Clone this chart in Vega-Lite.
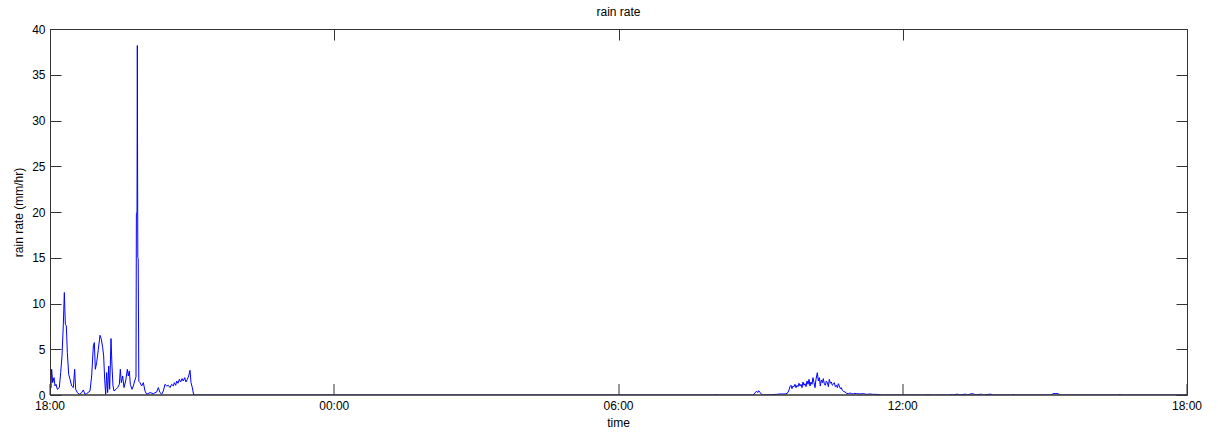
{
  "$schema": "https://vega.github.io/schema/vega-lite/v6.json",
  "autosize": "none",
  "width": 1137,
  "height": 366,
  "padding": {"left": 50, "top": 29, "right": 31, "bottom": 37},
  "background": "#ffffff",
  "config": {
    "font": "Liberation Sans",
    "view": {"stroke": null},
    "axis": {"labelFont": "Liberation Sans", "titleFont": "Liberation Sans", "labelFontSize": 12, "titleFontSize": 12, "titleFontWeight": "normal", "labelColor": "#000", "titleColor": "#000", "domainColor": "#333", "tickColor": "#333", "grid": false}
  },
  "title": {"text": "rain rate", "fontSize": 12, "fontWeight": "normal", "font": "Liberation Sans", "color": "#000", "offset": 4},
  "data": {"values": [
    {"t": "2013-06-01T18:00:00", "v": 1.5},
    {"t": "2013-06-01T18:01:16", "v": 0.81},
    {"t": "2013-06-01T18:02:07", "v": 2.81},
    {"t": "2013-06-01T18:03:23", "v": 1.35},
    {"t": "2013-06-01T18:05:04", "v": 1.9},
    {"t": "2013-06-01T18:06:20", "v": 0.99},
    {"t": "2013-06-01T18:07:36", "v": 1.17},
    {"t": "2013-06-01T18:09:17", "v": 0.62},
    {"t": "2013-06-01T18:11:49", "v": 0.81},
    {"t": "2013-06-01T18:13:31", "v": 2.45},
    {"t": "2013-06-01T18:15:12", "v": 4.27},
    {"t": "2013-06-01T18:16:53", "v": 7.74},
    {"t": "2013-06-01T18:18:09", "v": 11.2},
    {"t": "2013-06-01T18:19:25", "v": 7.74},
    {"t": "2013-06-01T18:20:41", "v": 7.55},
    {"t": "2013-06-01T18:21:57", "v": 4.64},
    {"t": "2013-06-01T18:23:38", "v": 2.26},
    {"t": "2013-06-01T18:25:20", "v": 1.72},
    {"t": "2013-06-01T18:27:26", "v": 0.99},
    {"t": "2013-06-01T18:29:33", "v": 0.81},
    {"t": "2013-06-01T18:31:14", "v": 2.81},
    {"t": "2013-06-01T18:32:31", "v": 0.62},
    {"t": "2013-06-01T18:34:37", "v": 0.26},
    {"t": "2013-06-01T18:37:09", "v": 0.08},
    {"t": "2013-06-01T18:40:07", "v": 0.26},
    {"t": "2013-06-01T18:42:13", "v": 0.55},
    {"t": "2013-06-01T18:44:20", "v": 0.08},
    {"t": "2013-06-01T18:46:26", "v": 0.15},
    {"t": "2013-06-01T18:50:40", "v": 0.44},
    {"t": "2013-06-01T18:52:46", "v": 2.08},
    {"t": "2013-06-01T18:54:53", "v": 5.36},
    {"t": "2013-06-01T18:56:09", "v": 5.73},
    {"t": "2013-06-01T18:57:25", "v": 2.81},
    {"t": "2013-06-01T18:59:06", "v": 3.54},
    {"t": "2013-06-01T19:01:13", "v": 5.0},
    {"t": "2013-06-01T19:03:20", "v": 6.53},
    {"t": "2013-06-01T19:05:01", "v": 6.09},
    {"t": "2013-06-01T19:06:42", "v": 5.18},
    {"t": "2013-06-01T19:07:58", "v": 4.27},
    {"t": "2013-06-01T19:09:14", "v": 1.72},
    {"t": "2013-06-01T19:10:31", "v": 0.08},
    {"t": "2013-06-01T19:11:46", "v": 2.45},
    {"t": "2013-06-01T19:13:02", "v": 0.26},
    {"t": "2013-06-01T19:14:19", "v": 3.17},
    {"t": "2013-06-01T19:15:34", "v": 0.62},
    {"t": "2013-06-01T19:17:16", "v": 6.17},
    {"t": "2013-06-01T19:18:31", "v": 3.17},
    {"t": "2013-06-01T19:19:47", "v": 0.99},
    {"t": "2013-06-01T19:21:04", "v": 0.44},
    {"t": "2013-06-01T19:23:35", "v": 0.62},
    {"t": "2013-06-01T19:25:42", "v": 0.81},
    {"t": "2013-06-01T19:27:49", "v": 1.17},
    {"t": "2013-06-01T19:29:04", "v": 2.81},
    {"t": "2013-06-01T19:30:20", "v": 1.35},
    {"t": "2013-06-01T19:32:02", "v": 2.08},
    {"t": "2013-06-01T19:33:43", "v": 0.81},
    {"t": "2013-06-01T19:35:50", "v": 1.53},
    {"t": "2013-06-01T19:37:56", "v": 2.81},
    {"t": "2013-06-01T19:39:13", "v": 2.08},
    {"t": "2013-06-01T19:40:28", "v": 2.63},
    {"t": "2013-06-01T19:41:44", "v": 1.17},
    {"t": "2013-06-01T19:43:51", "v": 0.62},
    {"t": "2013-06-01T19:45:32", "v": 0.99},
    {"t": "2013-06-01T19:47:14", "v": 1.53},
    {"t": "2013-06-01T19:48:54", "v": 2.0},
    {"t": "2013-06-01T19:49:24", "v": 19.8},
    {"t": "2013-06-01T19:50:12", "v": 20.0},
    {"t": "2013-06-01T19:50:36", "v": 38.2},
    {"t": "2013-06-01T19:51:12", "v": 15.0},
    {"t": "2013-06-01T19:51:42", "v": 14.9},
    {"t": "2013-06-01T19:52:30", "v": 1.5},
    {"t": "2013-06-01T19:53:59", "v": 1.35},
    {"t": "2013-06-01T19:56:06", "v": 0.99},
    {"t": "2013-06-01T19:58:13", "v": 1.35},
    {"t": "2013-06-01T20:00:19", "v": 0.44},
    {"t": "2013-06-01T20:02:26", "v": 0.08},
    {"t": "2013-06-01T20:06:39", "v": 0.26},
    {"t": "2013-06-01T20:10:52", "v": 0.15},
    {"t": "2013-06-01T20:15:05", "v": 0.33},
    {"t": "2013-06-01T20:17:12", "v": 0.81},
    {"t": "2013-06-01T20:19:19", "v": 0.26},
    {"t": "2013-06-01T20:21:26", "v": 0.08},
    {"t": "2013-06-01T20:23:32", "v": 0.44},
    {"t": "2013-06-01T20:25:39", "v": 1.17},
    {"t": "2013-06-01T20:27:46", "v": 0.99},
    {"t": "2013-06-01T20:29:52", "v": 1.06},
    {"t": "2013-06-01T20:31:59", "v": 0.81},
    {"t": "2013-06-01T20:34:05", "v": 1.17},
    {"t": "2013-06-01T20:36:12", "v": 0.99},
    {"t": "2013-06-01T20:37:28", "v": 1.35},
    {"t": "2013-06-01T20:39:10", "v": 1.06},
    {"t": "2013-06-01T20:40:25", "v": 1.53},
    {"t": "2013-06-01T20:42:07", "v": 1.28},
    {"t": "2013-06-01T20:43:48", "v": 1.72},
    {"t": "2013-06-01T20:45:29", "v": 1.42},
    {"t": "2013-06-01T20:47:11", "v": 1.79},
    {"t": "2013-06-01T20:48:52", "v": 1.53},
    {"t": "2013-06-01T20:50:34", "v": 1.9},
    {"t": "2013-06-01T20:52:14", "v": 1.42},
    {"t": "2013-06-01T20:53:56", "v": 1.72},
    {"t": "2013-06-01T20:55:37", "v": 2.08},
    {"t": "2013-06-01T20:57:19", "v": 2.7},
    {"t": "2013-06-01T20:58:35", "v": 1.35},
    {"t": "2013-06-01T21:00:16", "v": 0.81},
    {"t": "2013-06-01T21:01:58", "v": 0},
    {"t": "2013-06-02T08:03:30", "v": 0},
    {"t": "2013-06-02T08:04:18", "v": 0.1},
    {"t": "2013-06-02T08:05:00", "v": 0},
    {"t": "2013-06-02T08:50:48", "v": 0},
    {"t": "2013-06-02T08:52:54", "v": 0.26},
    {"t": "2013-06-02T08:55:00", "v": 0.4},
    {"t": "2013-06-02T08:56:18", "v": 0.26},
    {"t": "2013-06-02T08:57:30", "v": 0.47},
    {"t": "2013-06-02T08:59:12", "v": 0.29},
    {"t": "2013-06-02T09:01:18", "v": 0.07},
    {"t": "2013-06-02T09:03:24", "v": 0},
    {"t": "2013-06-02T09:20:18", "v": 0.07},
    {"t": "2013-06-02T09:24:30", "v": 0.11},
    {"t": "2013-06-02T09:30:54", "v": 0.11},
    {"t": "2013-06-02T09:33:48", "v": 0.18},
    {"t": "2013-06-02T09:35:30", "v": 0.44},
    {"t": "2013-06-02T09:37:12", "v": 0.91},
    {"t": "2013-06-02T09:38:30", "v": 1.06},
    {"t": "2013-06-02T09:39:42", "v": 0.69},
    {"t": "2013-06-02T09:41:00", "v": 0.98},
    {"t": "2013-06-02T09:42:18", "v": 0.91},
    {"t": "2013-06-02T09:43:30", "v": 1.17},
    {"t": "2013-06-02T09:44:48", "v": 0.8},
    {"t": "2013-06-02T09:46:06", "v": 1.06},
    {"t": "2013-06-02T09:47:18", "v": 0.91},
    {"t": "2013-06-02T09:48:36", "v": 1.28},
    {"t": "2013-06-02T09:49:54", "v": 0.98},
    {"t": "2013-06-02T09:51:06", "v": 1.17},
    {"t": "2013-06-02T09:52:24", "v": 0.8},
    {"t": "2013-06-02T09:53:42", "v": 1.42},
    {"t": "2013-06-02T09:54:54", "v": 1.06},
    {"t": "2013-06-02T09:56:12", "v": 1.24},
    {"t": "2013-06-02T09:57:30", "v": 0.91},
    {"t": "2013-06-02T09:58:42", "v": 1.53},
    {"t": "2013-06-02T10:00:00", "v": 1.17},
    {"t": "2013-06-02T10:01:18", "v": 1.71},
    {"t": "2013-06-02T10:02:30", "v": 0.98},
    {"t": "2013-06-02T10:03:48", "v": 1.42},
    {"t": "2013-06-02T10:05:06", "v": 1.17},
    {"t": "2013-06-02T10:06:18", "v": 1.9},
    {"t": "2013-06-02T10:07:36", "v": 1.35},
    {"t": "2013-06-02T10:08:54", "v": 0.8},
    {"t": "2013-06-02T10:10:06", "v": 1.71},
    {"t": "2013-06-02T10:11:48", "v": 2.44},
    {"t": "2013-06-02T10:13:06", "v": 1.53},
    {"t": "2013-06-02T10:14:24", "v": 1.9},
    {"t": "2013-06-02T10:15:36", "v": 0.98},
    {"t": "2013-06-02T10:16:54", "v": 1.64},
    {"t": "2013-06-02T10:18:12", "v": 1.35},
    {"t": "2013-06-02T10:19:24", "v": 1.79},
    {"t": "2013-06-02T10:20:42", "v": 1.17},
    {"t": "2013-06-02T10:22:00", "v": 1.06},
    {"t": "2013-06-02T10:23:12", "v": 1.53},
    {"t": "2013-06-02T10:24:30", "v": 1.35},
    {"t": "2013-06-02T10:25:48", "v": 0.91},
    {"t": "2013-06-02T10:27:00", "v": 1.71},
    {"t": "2013-06-02T10:28:18", "v": 1.28},
    {"t": "2013-06-02T10:29:36", "v": 1.42},
    {"t": "2013-06-02T10:30:48", "v": 1.06},
    {"t": "2013-06-02T10:32:06", "v": 1.17},
    {"t": "2013-06-02T10:33:24", "v": 1.35},
    {"t": "2013-06-02T10:34:36", "v": 0.91},
    {"t": "2013-06-02T10:35:54", "v": 1.06},
    {"t": "2013-06-02T10:37:12", "v": 0.8},
    {"t": "2013-06-02T10:38:24", "v": 1.24},
    {"t": "2013-06-02T10:39:42", "v": 0.98},
    {"t": "2013-06-02T10:41:00", "v": 0.69},
    {"t": "2013-06-02T10:42:12", "v": 0.8},
    {"t": "2013-06-02T10:43:30", "v": 0.51},
    {"t": "2013-06-02T10:44:48", "v": 0.4},
    {"t": "2013-06-02T10:46:54", "v": 0.33},
    {"t": "2013-06-02T10:49:00", "v": 0.18},
    {"t": "2013-06-02T10:51:06", "v": 0.15},
    {"t": "2013-06-02T10:53:12", "v": 0.22},
    {"t": "2013-06-02T10:55:18", "v": 0.15},
    {"t": "2013-06-02T10:57:24", "v": 0.11},
    {"t": "2013-06-02T10:59:30", "v": 0.18},
    {"t": "2013-06-02T11:01:36", "v": 0.15},
    {"t": "2013-06-02T11:05:54", "v": 0.11},
    {"t": "2013-06-02T11:10:06", "v": 0.15},
    {"t": "2013-06-02T11:14:18", "v": 0.07},
    {"t": "2013-06-02T11:18:30", "v": 0.11},
    {"t": "2013-06-02T11:22:42", "v": 0.07},
    {"t": "2013-06-02T11:27:00", "v": 0.07},
    {"t": "2013-06-02T11:31:12", "v": 0.04},
    {"t": "2013-06-02T11:33:18", "v": 0},
    {"t": "2013-06-02T12:31:30", "v": 0},
    {"t": "2013-06-02T12:32:00", "v": 0.1},
    {"t": "2013-06-02T12:32:30", "v": 0},
    {"t": "2013-06-02T13:00:00", "v": 0},
    {"t": "2013-06-02T13:01:00", "v": 0.1},
    {"t": "2013-06-02T13:02:00", "v": 0},
    {"t": "2013-06-02T13:10:00", "v": 0.1},
    {"t": "2013-06-02T13:11:00", "v": 0},
    {"t": "2013-06-02T13:20:00", "v": 0.1},
    {"t": "2013-06-02T13:21:00", "v": 0},
    {"t": "2013-06-02T13:28:00", "v": 0.15},
    {"t": "2013-06-02T13:30:00", "v": 0.1},
    {"t": "2013-06-02T13:32:00", "v": 0},
    {"t": "2013-06-02T13:40:00", "v": 0.1},
    {"t": "2013-06-02T13:41:00", "v": 0},
    {"t": "2013-06-02T13:52:00", "v": 0.1},
    {"t": "2013-06-02T13:53:00", "v": 0},
    {"t": "2013-06-02T14:19:00", "v": 0},
    {"t": "2013-06-02T14:20:00", "v": 0.1},
    {"t": "2013-06-02T14:21:00", "v": 0},
    {"t": "2013-06-02T15:09:00", "v": 0},
    {"t": "2013-06-02T15:10:00", "v": 0.15},
    {"t": "2013-06-02T15:17:00", "v": 0.15},
    {"t": "2013-06-02T15:18:00", "v": 0},
    {"t": "2013-06-02T16:34:00", "v": 0},
    {"t": "2013-06-02T16:35:00", "v": 0.1},
    {"t": "2013-06-02T16:36:00", "v": 0},
    {"t": "2013-06-02T18:00:00", "v": 0}
  ]},
  "layer": [
    {
      "mark": {"type": "line", "color": "#0000ff", "strokeWidth": 1, "clip": true},
      "encoding": {
        "x": {"field": "t", "type": "temporal",
          "scale": {"domain": [{"year": 2013, "month": 6, "date": 1, "hours": 18}, {"year": 2013, "month": 6, "date": 2, "hours": 18}]},
          "axis": {"orient": "bottom", "zindex": 2, "translate": 0, "domainWidth": 1.6, "title": "time", "format": "%H:%M", "tickSize": -11, "labelPadding": 17, "titlePadding": 6, "labelFlush": false, "labelOverlap": false,
            "values": [{"year": 2013, "month": 6, "date": 1, "hours": 18}, {"year": 2013, "month": 6, "date": 2, "hours": 0}, {"year": 2013, "month": 6, "date": 2, "hours": 6}, {"year": 2013, "month": 6, "date": 2, "hours": 12}, {"year": 2013, "month": 6, "date": 2, "hours": 18}]}},
        "y": {"field": "v", "type": "quantitative",
          "scale": {"domain": [0, 40], "nice": false},
          "axis": {"orient": "left", "zindex": 2, "title": "rain rate (mm/hr)", "values": [0, 5, 10, 15, 20, 25, 30, 35, 40], "tickSize": -11, "labelPadding": 16, "titlePadding": 6, "labelFlush": false, "labelOverlap": false}}
      }
    },
    {
      "mark": {"type": "line", "strokeOpacity": 0},
      "encoding": {
        "x": {"field": "t", "type": "temporal",
          "axis": {"orient": "top", "zindex": 2, "title": null, "labels": false, "tickSize": -11,
            "values": [{"year": 2013, "month": 6, "date": 1, "hours": 18}, {"year": 2013, "month": 6, "date": 2, "hours": 0}, {"year": 2013, "month": 6, "date": 2, "hours": 6}, {"year": 2013, "month": 6, "date": 2, "hours": 12}, {"year": 2013, "month": 6, "date": 2, "hours": 18}]}},
        "y": {"field": "v", "type": "quantitative",
          "axis": {"orient": "right", "zindex": 2, "title": null, "labels": false, "tickSize": -11, "values": [0, 5, 10, 15, 20, 25, 30, 35, 40]}}
      }
    }
  ],
  "resolve": {"axis": {"x": "independent", "y": "independent"}}
}
